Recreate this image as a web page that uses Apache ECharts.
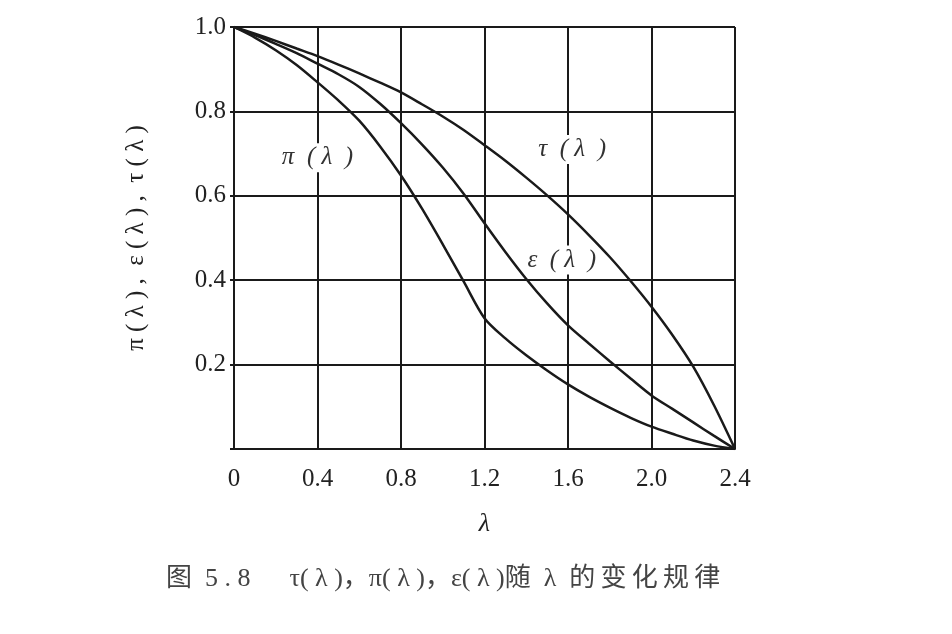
<!DOCTYPE html>
<html>
<head>
<meta charset="utf-8">
<script src="https://cdn.jsdelivr.net/npm/echarts@6/dist/echarts.min.js"></script>
<style>
html,body{margin:0;padding:0;background:#fff;}
#chart{width:952px;height:634px;}
</style>
</head>
<body>
<div id="chart"></div>
<script>
// λ sample points (step 0.1)
var lambdas = [0, 0.1, 0.2, 0.3, 0.4, 0.5, 0.6, 0.7, 0.8, 0.9, 1.0, 1.1, 1.2, 1.3, 1.4, 1.5, 1.6, 1.7, 1.8, 1.9, 2.0, 2.1, 2.2, 2.3, 2.4];
var tauValues = [1, 0.984, 0.967, 0.949, 0.931, 0.911, 0.89, 0.868, 0.845, 0.817, 0.788, 0.756, 0.72, 0.683, 0.643, 0.601, 0.556, 0.507, 0.455, 0.398, 0.337, 0.27, 0.195, 0.103, 0];
var epsValues = [1, 0.981, 0.96, 0.938, 0.913, 0.888, 0.858, 0.818, 0.772, 0.722, 0.667, 0.605, 0.535, 0.467, 0.403, 0.345, 0.293, 0.25, 0.208, 0.167, 0.127, 0.095, 0.063, 0.031, 0];
var piValues  = [1, 0.975, 0.945, 0.91, 0.869, 0.826, 0.778, 0.717, 0.648, 0.57, 0.485, 0.397, 0.31, 0.262, 0.222, 0.186, 0.153, 0.124, 0.098, 0.074, 0.053, 0.036, 0.02, 0.008, 0];
var xTickLabels = ['0', '0.4', '0.8', '1.2', '1.6', '2.0', '2.4'];
var yTickLabels = ['', '0.2', '0.4', '0.6', '0.8', '1.0'];
var curveLabels = [
  { name: 'π  ( λ  )', coord: [0.40, 0.69] },
  { name: 'τ  ( λ  )', coord: [1.62, 0.71] },
  { name: 'ε  ( λ  )', coord: [1.57, 0.448] }
];

function pairs(xs, ys) { return xs.map(function (x, i) { return [x, ys[i]]; }); }

var serifFont = '"Liberation Serif", "DejaVu Serif", serif';
var ink = '#1a1a1a';

function labelPoint(lbl) {
  return {
    coord: lbl.coord,
    symbol: 'rect',
    symbolSize: 0,
    label: {
      show: true,
      position: 'inside',
      formatter: lbl.name,
      color: '#333',
      fontFamily: serifFont,
      fontSize: 25,
      fontStyle: 'italic',
      backgroundColor: '#fff',
      padding: [2, 2]
    }
  };
}

var lineStyle = { color: ink, width: 2.5 };

var chart = echarts.init(document.getElementById('chart'), null, { renderer: 'canvas' });
chart.setOption({
  backgroundColor: '#fff',
  animation: false,
  grid: { left: 234, right: 217, top: 27, bottom: 185, containLabel: false },
  title: {
    text: '图  5 . 8      τ( λ )，π( λ )，ε( λ )随  λ  的\u2009变\u2009化\u2009规\u2009律',
    left: 161,
    top: 561,
    textStyle: {
      fontFamily: '"Liberation Serif", "Noto Sans CJK SC", serif',
      fontSize: 26,
      fontWeight: 'normal',
      color: '#444'
    }
  },
  xAxis: {
    type: 'value',
    min: 0,
    max: 2.4,
    interval: 0.4,
    name: 'λ',
    nameLocation: 'middle',
    nameGap: 62,
    nameTextStyle: { fontFamily: serifFont, fontSize: 26, fontStyle: 'italic', color: '#222' },
    axisLine: { show: true, lineStyle: { color: ink, width: 2 } },
    axisTick: { show: false },
    axisLabel: {
      margin: 18,
      fontFamily: serifFont,
      fontSize: 25,
      color: '#222',
      formatter: function (v) { return xTickLabels[Math.round(v / 0.4)]; }
    },
    splitLine: { show: true, lineStyle: { color: ink, width: 2 } }
  },
  yAxis: {
    type: 'value',
    min: 0,
    max: 1.0,
    interval: 0.2,
    name: 'π ( λ ) ,  ε ( λ ) ,  τ ( λ )',
    nameLocation: 'middle',
    nameRotate: 90,
    nameGap: 85,
    nameTextStyle: { fontFamily: serifFont, fontSize: 25, color: '#222' },
    axisLine: { show: true, lineStyle: { color: ink, width: 2 } },
    axisTick: { show: true, length: 4, lineStyle: { color: ink, width: 2 } },
    axisLabel: {
      margin: 8,
      fontFamily: serifFont,
      fontSize: 25,
      color: '#222',
      formatter: function (v) { return yTickLabels[Math.round(v / 0.2)]; }
    },
    splitLine: { show: true, lineStyle: { color: ink, width: 2 } }
  },
  series: [
    {
      name: 'τ', type: 'line', data: pairs(lambdas, tauValues),
      smooth: 0.3, showSymbol: false, symbol: 'none', lineStyle: lineStyle, z: 5,
      markPoint: { data: [labelPoint(curveLabels[1])] }
    },
    {
      name: 'ε', type: 'line', data: pairs(lambdas, epsValues),
      smooth: 0.3, showSymbol: false, symbol: 'none', lineStyle: lineStyle, z: 5,
      markPoint: { data: [labelPoint(curveLabels[2])] }
    },
    {
      name: 'π', type: 'line', data: pairs(lambdas, piValues),
      smooth: 0.3, showSymbol: false, symbol: 'none', lineStyle: lineStyle, z: 5,
      markPoint: { data: [labelPoint(curveLabels[0])] }
    }
  ]
});
</script>
</body>
</html>
